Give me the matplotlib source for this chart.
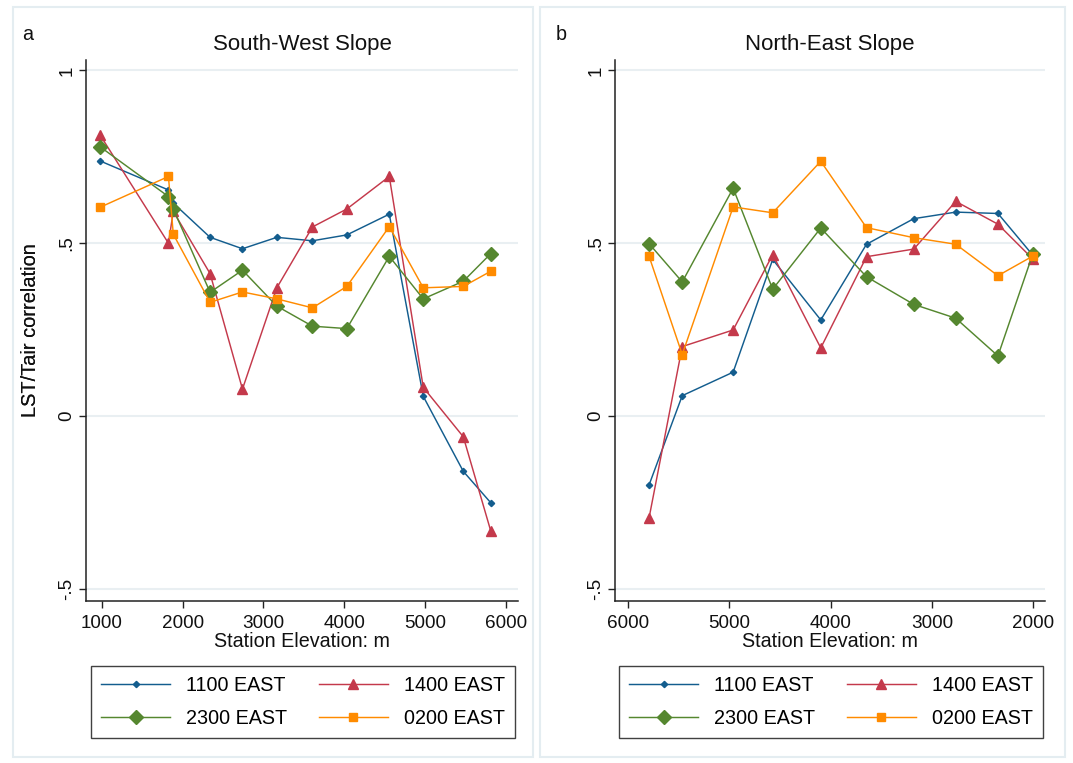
import matplotlib
matplotlib.use("Agg")
import matplotlib.pyplot as plt
from matplotlib.patches import Rectangle

plt.rcParams['font.family'] = ['Liberation Sans', 'DejaVu Sans']

# ---- data ----
series_names = ["1100 EAST", "1400 EAST", "2300 EAST", "0200 EAST"]

sw_elev = [980, 1825, 1885, 2340, 2740, 3165, 3605, 4030, 4555, 4975, 5470, 5810]
sw_1100 = [0.738, 0.654, 0.616, 0.517, 0.484, 0.517, 0.507, 0.524, 0.584, 0.057, -0.160, -0.251]
sw_1400 = [0.813, 0.500, 0.592, 0.412, 0.078, 0.371, 0.547, 0.599, 0.693, 0.083, -0.060, -0.333]
sw_2300 = [0.779, 0.635, 0.599, 0.358, 0.422, 0.318, 0.260, 0.253, 0.462, 0.339, 0.390, 0.470]
sw_0200 = [0.604, 0.693, 0.526, 0.329, 0.359, 0.339, 0.313, 0.375, 0.548, 0.371, 0.375, 0.419]

ne_elev = [5790, 5462, 4960, 4570, 4096, 3645, 3179, 2765, 2349, 2004]
ne_1100 = [-0.200, 0.059, 0.127, 0.453, 0.278, 0.497, 0.571, 0.590, 0.586, 0.465]
ne_1400 = [-0.296, 0.201, 0.249, 0.467, 0.197, 0.461, 0.483, 0.621, 0.555, 0.454]
ne_2300 = [0.499, 0.388, 0.659, 0.367, 0.544, 0.403, 0.323, 0.283, 0.174, 0.470]
ne_0200 = [0.463, 0.178, 0.605, 0.588, 0.737, 0.545, 0.516, 0.497, 0.406, 0.463]

y_ticks = [-0.5, 0, 0.5, 1]
y_ticklabels = ["-.5", "0", ".5", "1"]
sw_xticks = [1000, 2000, 3000, 4000, 5000, 6000]
ne_xticks = [6000, 5000, 4000, 3000, 2000]

titles = ["South-West Slope", "North-East Slope"]
panel_letters = ["a", "b"]

# ---- styles ----
colors = ['#135d8e', '#c4394b', '#55872f', '#ff8b00']
markers = ['D', '^', 'D', 's']
msizes = [3.2, 7.5, 6.8, 6.3]

W, H = 1073, 763
fig = plt.figure(figsize=(W / 100, H / 100), dpi=100)
fig.patch.set_facecolor('white')

def fx(px):
    return px / W

def fy(py):
    return 1 - py / H

# panel frames
for (x0, x1) in [(13, 533), (540, 1065)]:
    fig.patches.append(Rectangle((fx(x0), fy(757)), fx(x1) - fx(x0), fy(7) - fy(757),
                                 transform=fig.transFigure, fill=False,
                                 edgecolor='#e4edf1', linewidth=1.5, zorder=0))

panels = [
    dict(left=86, right=518, elev=sw_elev, data=[sw_1100, sw_1400, sw_2300, sw_0200],
         xticks=sw_xticks, xlim=(806, 6146)),
    dict(left=615, right=1045, elev=ne_elev, data=[ne_1100, ne_1400, ne_2300, ne_0200],
         xticks=ne_xticks, xlim=(6125, 1885)),
]

top_px, bot_px = 60, 601
for i, p in enumerate(panels):
    ax = fig.add_axes([fx(p['left']), fy(bot_px), fx(p['right']) - fx(p['left']),
                       fy(top_px) - fy(bot_px)])
    ax.set_facecolor('white')
    handles = []
    for s in range(4):
        h, = ax.plot(p['elev'], p['data'][s], color=colors[s], marker=markers[s],
                     markersize=msizes[s], markeredgecolor=colors[s],
                     markerfacecolor=colors[s], linewidth=1.05, label=series_names[s],
                     zorder=3)
        handles.append(h)
    ax.set_xlim(*p['xlim'])
    ax.set_ylim(-0.535, 1.03)
    ax.set_yticks(y_ticks)
    ax.set_yticklabels(y_ticklabels, rotation=90, va='center')
    ax.set_xticks(p['xticks'])
    ax.set_xticklabels([str(v) for v in p['xticks']])
    ax.tick_params(axis='both', labelsize=13.6, length=5, width=1, color='#222222',
                   labelcolor='#111111')
    ax.tick_params(axis='y', pad=2.5)
    ax.tick_params(axis='x', pad=5)
    ax.grid(axis='y', color='#e9eff2', linewidth=1.5, zorder=0)
    ax.set_axisbelow(True)
    for side in ['top', 'right']:
        ax.spines[side].set_visible(False)
    for side in ['left', 'bottom']:
        ax.spines[side].set_color('#222222')
        ax.spines[side].set_linewidth(1.1)
    ax.set_ylabel("LST/Tair correlation", fontsize=14.4, color='#111111')
    ax.yaxis.set_label_coords((40 - p['left']) / (p['right'] - p['left']), 0.5)
    ax.set_xlabel("Station Elevation: m", fontsize=14.2, color='#111111')
    ax.xaxis.set_label_coords(0.5, -(632 - bot_px) / (bot_px - top_px))

    cx = (p['left'] + p['right']) / 2
    fig.text(fx(cx), fy(50), titles[i], ha='center', va='baseline', fontsize=16,
             color='#111111')
    fig.text(fx(p['left'] - 64 + (0 if i == 0 else 5)), fy(40), panel_letters[i],
             ha='left', va='baseline', fontsize=14.2, color='#111111')

    # row-wise order: 1100, 1400 / 2300, 0200 (legend fills column-wise)
    order = [0, 2, 1, 3]
    leg = fig.legend(handles=[handles[k] for k in order],
                     labels=[series_names[k] for k in order], ncol=2, loc='center',
                     bbox_to_anchor=(fx(cx + 1), fy(702)), bbox_transform=fig.transFigure,
                     fontsize=14.2, frameon=True, fancybox=False, edgecolor='#111111',
                     handlelength=3.5, handletextpad=0.8, columnspacing=1.6,
                     labelspacing=0.72, borderpad=0.5, numpoints=1)
    leg.get_frame().set_linewidth(1.0)

fig.savefig('out.png', dpi=100, facecolor='white')
